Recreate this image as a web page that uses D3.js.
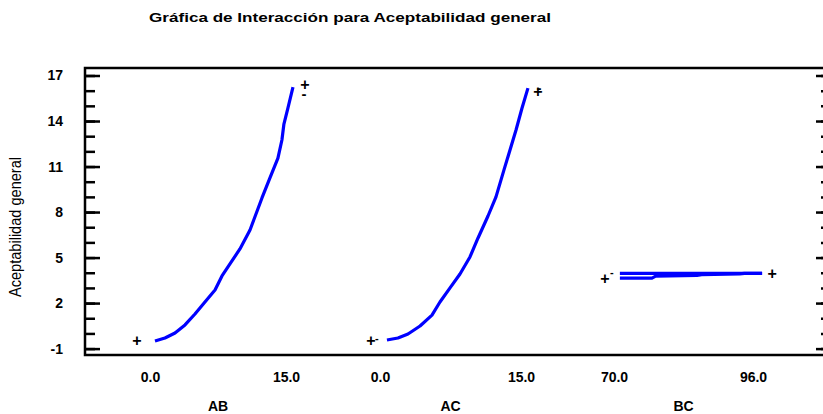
<!DOCTYPE html>
<html>
<head>
<meta charset="utf-8">
<script src="https://cdn.jsdelivr.net/npm/d3@7"></script>
<style>
	body { margin: 0; background: #fff; }
	svg { display: block; font-family: "Liberation Sans", Arial, sans-serif; }
	.tick text { font-weight: bold; font-size: 14px; fill: #000; }
</style>
</head>
<body>
<script>
// values
var yTicks = [-1, 2, 5, 8, 11, 14, 17];
var yMinor = d3.range(-1, 18, 1);

var abX = [0.55, 1.65, 2.76, 3.86, 4.96, 6.06, 7.17, 7.94, 8.82, 9.92, 11.03, 11.69, 12.35, 13.23, 14.11, 14.55, 14.77, 15.21, 15.77];
var abY = [-0.50, -0.30, 0.03, 0.56, 1.28, 2.07, 2.86, 3.79, 4.58, 5.57, 6.82, 7.87, 8.93, 10.25, 11.56, 12.75, 13.80, 14.85, 16.24];

var acX = [0.74, 1.91, 2.98, 4.26, 5.53, 6.38, 7.45, 8.51, 9.57, 10.43, 11.49, 12.34, 13.19, 13.83, 14.47, 15.11, 15.74];
var acY = [-0.43, -0.30, -0.04, 0.49, 1.21, 2.07, 3.00, 3.92, 5.04, 6.29, 7.74, 9.00, 10.78, 12.09, 13.41, 14.86, 16.17];

var bcHiX = [71.1, 97.7];
var bcHiY = [3.96, 3.96];
var bcLoX = [71.1, 77.1, 77.8, 85.5, 86.4, 93.5, 94.4, 97.7];
var bcLoY = [3.65, 3.65, 3.78, 3.82, 3.88, 3.92, 3.96, 3.96];

var panels = ["AB", "AC", "BC"];
var panelTicks = [[0, 15], [0, 15], [70, 96]];

var width = 823,
	height = 414,
	padLeft = 85,
	padRight = 826,
	padTop = 68,
	padBottom = 355;

var svg = d3.select("body")
	.append("svg")
	.attr("width", width)
	.attr("height", height);

var y = d3.scaleLinear().domain([-1, 17]).range([348.6, 75.5]);

var xs = [
	d3.scaleLinear().domain([0, 15]).range([150, 286]),
	d3.scaleLinear().domain([0, 15]).range([380, 521]),
	d3.scaleLinear().domain([70, 96]).range([614, 753])
];

// title
svg.append("text")
	.attr("x", 350)
	.attr("y", 22)
	.attr("text-anchor", "middle")
	.attr("textLength", 402)
	.attr("lengthAdjust", "spacingAndGlyphs")
	.style("font-weight", "bold")
	.style("font-size", "13px")
	.text("Gráfica de Interacción para Aceptabilidad general");

// y label (narrow face)
svg.append("text")
	.attr("transform", "translate(21,227) rotate(-90)")
	.attr("text-anchor", "middle")
	.attr("textLength", 140)
	.attr("lengthAdjust", "spacingAndGlyphs")
	.style("font-size", "16px")
	.text("Aceptabilidad general");

// left axis labels
svg.append("g")
	.attr("transform", "translate(" + padLeft + ",0)")
	.call(d3.axisLeft(y).tickValues(yTicks).tickSize(0).tickPadding(22).tickFormat(function(d) { return String(d); }))
	.call(function(g) { g.select(".domain").remove(); });

// left ticks, pointing in
svg.append("g")
	.attr("transform", "translate(" + padLeft + ",0)")
	.call(d3.axisRight(y).tickValues(yMinor).tickSize(10).tickFormat(""))
	.call(function(g) { g.select(".domain").remove(); g.selectAll("line").attr("stroke-width", 2.5); });
svg.append("g")
	.attr("transform", "translate(" + padLeft + ",0)")
	.call(d3.axisRight(y).tickValues(yTicks).tickSize(15).tickFormat(""))
	.call(function(g) { g.select(".domain").remove(); g.selectAll("line").attr("stroke-width", 2.5); });

// right ticks
svg.append("g")
	.attr("transform", "translate(" + padRight + ",0)")
	.call(d3.axisLeft(y).tickValues(yMinor).tickSize(5).tickFormat(""))
	.call(function(g) { g.select(".domain").remove(); g.selectAll("line").attr("stroke-width", 2.5); });
svg.append("g")
	.attr("transform", "translate(" + padRight + ",0)")
	.call(d3.axisLeft(y).tickValues(yTicks).tickSize(10).tickFormat(""))
	.call(function(g) { g.select(".domain").remove(); g.selectAll("line").attr("stroke-width", 2.5); });

// frame
svg.append("rect")
	.attr("x", padLeft)
	.attr("y", padTop)
	.attr("width", padRight - padLeft)
	.attr("height", padBottom - padTop)
	.attr("fill", "none")
	.attr("stroke", "#000")
	.attr("stroke-width", 2.5);

// x axes per panel
panels.forEach(function(name, i) {
	svg.append("g")
		.attr("transform", "translate(0," + padBottom + ")")
		.call(d3.axisBottom(xs[i]).tickValues(panelTicks[i]).tickSize(0).tickPadding(17).tickFormat(d3.format(".1f")))
		.call(function(g) { g.select(".domain").remove(); });
	svg.append("text")
		.attr("x", (xs[i](panelTicks[i][0]) + xs[i](panelTicks[i][1])) / 2)
		.attr("y", 411)
		.attr("text-anchor", "middle")
		.style("font-weight", "bold")
		.style("font-size", "14px")
		.text(name);
});

function curve(xv, yv, sx) {
	var pts = xv.map(function(d, i) { return [sx(d), y(yv[i])]; });
	svg.append("path")
		.attr("d", d3.line()(pts))
		.attr("fill", "none")
		.attr("stroke", "#0000ff")
		.attr("stroke-width", 3.2)
		.attr("stroke-linejoin", "round");
	return pts;
}

function mark(x, yy, t, size) {
	svg.append("text")
		.attr("x", x)
		.attr("y", yy)
		.attr("text-anchor", "middle")
		.style("font-weight", "bold")
		.style("font-size", size + "px")
		.text(t);
}

var ab = curve(abX, abY, xs[0]);
var ac = curve(acX, acY, xs[1]);
var bcHi = curve(bcHiX, bcHiY, xs[2]);
var bcLo = curve(bcLoX, bcLoY, xs[2]);

// end labels
mark(ab[0][0] - 18, ab[0][1] + 5, "+", 16);
mark(ab[ab.length - 1][0] + 12, ab[ab.length - 1][1] + 3, "+", 16);
mark(ab[ab.length - 1][0] + 11, ab[ab.length - 1][1] + 12, "-", 15);

mark(ac[0][0] - 16, ac[0][1] + 6, "+", 16);
mark(ac[0][0] - 10, ac[0][1] + 2, "-", 11);
mark(ac[ac.length - 1][0] + 10, ac[ac.length - 1][1] + 9, "+", 16);
mark(ac[ac.length - 1][0] + 11, ac[ac.length - 1][1] + 5, "-", 15);

mark(bcLo[0][0] - 15, bcLo[0][1] + 6, "+", 16);
mark(bcLo[0][0] - 8, bcLo[0][1] - 2, "-", 11);
mark(bcHi[1][0] + 10, bcHi[1][1] + 6, "+", 16);
</script>
</body>
</html>
